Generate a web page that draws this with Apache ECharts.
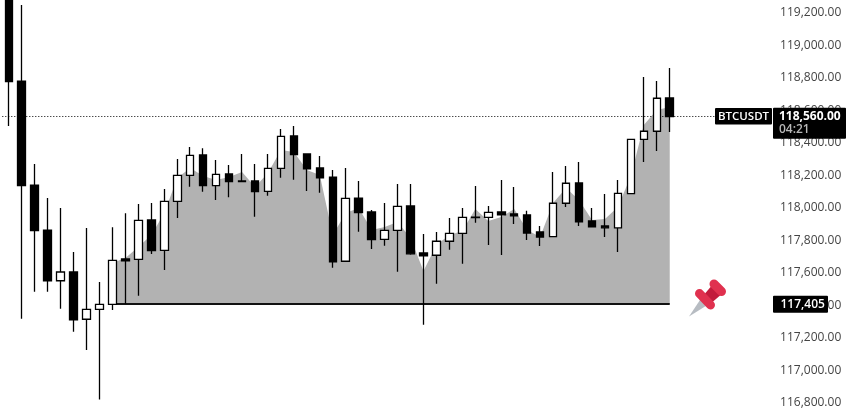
<!DOCTYPE html>
<html><head><meta charset="utf-8">
<style>html,body{margin:0;padding:0;background:#fff}#c{width:848px;height:417px}</style>
<script src="https://cdn.jsdelivr.net/npm/echarts@6/dist/echarts.min.js"></script>
</head><body><div id="c"></div>
<script>
const opens=[119298,118769,118129,117852,117540,117594,117303,117364,117395,117674,117672,117914,117727,118029,118189,118314,118125,118197,118154,118154,118090,118232,118431,118320,118234,118178,117660,118049,117963,117795,117850,118000,117711,117697,117783,117832,117932,117930,117963,117951,117945,117840,117811,118017,118142,117908,117877,117866,118076,118410,118460,118665];
const closes=[118765,118125,117848,117540,117594,117300,117364,117395,117666,117663,117912,117725,118029,118189,118312,118125,118195,118150,118150,118088,118232,118429,118316,118228,118174,117657,118047,117959,117793,117850,117998,117706,117694,117783,117832,117930,117928,117961,117945,117940,117834,117809,118017,118140,117902,117871,117866,118078,118410,118460,118663,118550];
const lows=[118492,117306,117473,117473,117368,117226,117114,116810,117360,117397,117448,117705,117606,117926,118119,118088,118037,118054,118150,117934,118063,118174,118162,118092,118082,117620,117660,117842,117735,117756,117596,117700,117270,117522,117731,117645,117897,117760,117698,117889,117791,117754,117811,117994,117877,117871,117809,117717,118076,118271,118338,118455];
const highs=[119298,119237,118258,118049,117988,117717,117865,117532,117869,117955,118012,118018,118105,118289,118363,118355,118283,118252,118320,118258,118320,118474,118492,118320,118308,118222,118234,118154,117975,118018,118135,118135,117828,117840,117926,117988,118123,118000,118160,118117,117971,117877,118209,118246,118271,117988,118074,118160,118410,118794,118769,118849];
const areaTop=[117649,117680,117748,117821,117957,118172,118234,118185,118160,118178,118209,118117,118203,118345,118332,118222,118191,117821,117957,117988,117852,117871,117902,117803,117600,117760,117821,117846,117982,117908,117932,117982,117852,117809,118018,118111,118037,117914,117920,117994,118185,118498,118591,118609];
const areaFirstIndex=8;
const yTicks={min:116800,max:119200,interval:200};
const lastLine=118551, pinLevel=117397;
const symbolTag='BTCUSDT', lastText='118,560.00', countdown='04:21', pinText='117,405';

const FONT='"Open Sans", sans-serif';
const total=55;
const categories=Array.from({length:total},(_,i)=>'c'+i);
const candles=opens.map((o,i)=>[o,closes[i],lows[i],highs[i]]);
const area=categories.map((_,i)=>{const k=i-areaFirstIndex;return k>=0&&k<areaTop.length?areaTop[k]:'-';});

function tag(x,y,w,h){return {type:'rect',shape:{x,y,width:w,height:h,r:1},style:{fill:'#000'},z:100};}
function txt(x,y,t,fill,size,weight,align){return {type:'text',x,y,z:101,style:{text:t,fill,font:(weight||'normal')+' '+size+'px '+FONT,textAlign:align||'left',textVerticalAlign:'middle'}};}

const chart=echarts.init(document.getElementById('c'),null,{renderer:'canvas'});
chart.setOption({
 animation:false,
 backgroundColor:'#fff',
 grid:{left:2.3,width:712.8,top:11,height:390,containLabel:false},
 xAxis:{type:'category',data:categories,boundaryGap:true,axisLine:{show:false},axisTick:{show:false},axisLabel:{show:false},splitLine:{show:false}},
 yAxis:{type:'value',position:'right',min:yTicks.min,max:yTicks.max,interval:yTicks.interval,scale:true,
  axisLine:{show:false},axisTick:{show:false},splitLine:{show:false},
  axisLabel:{show:true,margin:65,verticalAlign:'top',lineHeight:4,color:'#444',fontFamily:FONT,fontSize:12,showMinLabel:true,showMaxLabel:true,
   formatter:v=>v.toLocaleString('en-US',{minimumFractionDigits:2,maximumFractionDigits:2})}},
 series:[
  {type:'line',data:area,showSymbol:false,smooth:false,clip:false,z:1,lineStyle:{width:0},itemStyle:{color:'#b2b2b2'},
   areaStyle:{color:'#b2b2b2',opacity:1,origin:pinLevel},
   markLine:{silent:true,symbol:'none',z:2,label:{show:false},lineStyle:{color:'#111',width:2,type:'solid'},
    data:[[{coord:['c8',pinLevel]},{coord:['c51',pinLevel]}]]}},
  {type:'candlestick',data:candles,clip:false,barWidth:8,z:3,
   itemStyle:{color:'#fff',color0:'#000',borderColor:'#000',borderColor0:'#000',borderWidth:1.3},
   markLine:{silent:true,symbol:'none',z:2,label:{show:false},lineStyle:{color:'#000',width:1,type:[1,2]},
    data:[{yAxis:lastLine}]}}
 ],
 graphic:[
  tag(715,108,57,16.5),txt(743.5,116.5,symbolTag,'#fff',11.5,'600','center'),
  tag(773,107.7,73,31),txt(779,116.5,lastText,'#fff',12,'bold'),txt(779,130,countdown,'#b8b8b8',12,'600'),
  tag(773,295.7,55,17),txt(780.5,304.5,pinText,'#fff',12,'600'),
  {type:'polygon',z:50,shape:{points:[[689,316.5],[702,297],[709,304]]},style:{fill:'#b7bcc2'}},
  {type:'polygon',z:51,shape:{points:[[702,297],[714,283],[723,293],[709,305]]},style:{fill:'#c21b3c'}},
  {type:'line',z:52,shape:{x1:699.5,y1:293.5,x2:710.5,y2:305},style:{stroke:'#e0314f',lineWidth:9,lineCap:'round'}},
  {type:'line',z:52,shape:{x1:714,y1:284,x2:721.5,y2:291.5},style:{stroke:'#e0314f',lineWidth:9,lineCap:'round'}}
 ]
});
</script></body></html>
